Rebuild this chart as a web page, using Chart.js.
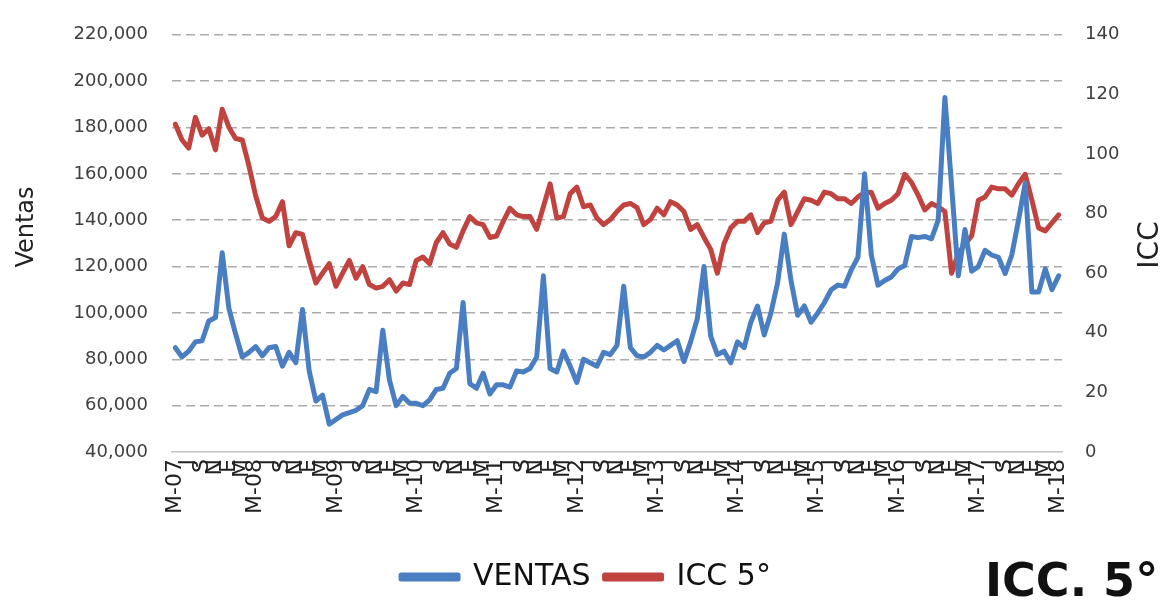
<!DOCTYPE html>
<html>
<head>
<meta charset="utf-8">
<script src="https://cdn.jsdelivr.net/npm/chart.js@4/dist/chart.umd.min.js"></script>
<style>
  html, body { margin: 0; padding: 0; background: #fff; }
  #wrap { width: 1172px; height: 602px; }
</style>
</head>
<body>
<div id="wrap"><canvas id="icc" width="1172" height="602"></canvas></div>
<script>
// meses mostrados en el eje (cada 2 meses, empieza en mayo)
const letras = ['M', 'J', 'S', 'N', 'E', 'M'];
const anios = ['07', '08', '09', '10', '11', '12', '13', '14', '15', '16', '17', '18'];

// ventas mensuales, may-07 a may-18
const ventas = [
  85000, 81000, 83500, 87500, 88000, 96500, 98000, 126000, 102000, 91000, 81000, 83000,
  85500, 81500, 85000, 85500, 77000, 83000, 78500, 101500, 75000, 62000, 64500, 52000,
  54000, 56000, 57000, 58000, 60000, 67000, 66000, 92500, 71000, 60000, 64000, 61000,
  61000, 60000, 62500, 67000, 67500, 74000, 76000, 104500, 69500, 67500, 74000, 65000,
  69000, 69000, 68000, 75000, 74500, 76000, 81000, 116000, 76000, 74500, 83500, 77000,
  70000, 80000, 78500, 77000, 83000, 82000, 86000, 111500, 85000, 81500, 81000, 83000,
  86000, 84000, 86000, 88000, 79000, 87500, 97500, 120000, 90000, 82000, 83500, 78500,
  87500, 85000, 96000, 103000, 90500, 100000, 113000, 134000, 114000, 99000, 103000, 96000,
  100000, 104500, 110000, 112000, 111500, 118500, 124000, 160000, 125000, 112000, 114000, 115500,
  119000, 120500, 133000, 132500, 133000, 132000, 140000, 193000, 155000, 116000, 136000, 118000,
  120000, 127000, 125000, 124000, 117000, 125000, 140000, 156000, 109000, 109000, 119000, 110000, 116000
];

// ICC 5°
const icc = [
  110, 104.7, 102, 112.3, 106.3, 108.5, 101.4, 115, 109, 105.2, 104.7, 96,
  86, 78.5, 77.4, 79, 84, 69.2, 73.6, 73, 64.3, 56.7, 60, 63.2,
  55.6, 60, 64.3, 58.3, 62.2, 56.2, 55, 55.6, 57.8, 54, 56.7, 56.2,
  64.3, 65.4, 63.2, 70.3, 73.6, 69.8, 68.7, 74.2, 79, 76.9, 76.3, 72,
  72.5, 77.4, 81.8, 79.6, 79, 79, 74.7, 82.3, 90, 78.5, 79, 86.7,
  88.9, 82.3, 82.9, 78.5, 76.3, 78, 80.7, 82.9, 83.4, 82, 76.3, 78,
  81.8, 79.6, 84, 82.9, 80.7, 74.7, 76.3, 72, 68, 60, 70, 75.2,
  77.4, 77.4, 79.6, 73.6, 76.9, 77.4, 84.5, 87.2, 76.3, 80.7, 85, 84.5,
  83.4, 87.2, 86.7, 85, 85, 83.4, 85.6, 87, 87.2, 81.8, 83.4, 84.5,
  86.7, 93.2, 90.5, 86.2, 81.2, 83.4, 82.3, 80.7, 60, 66.5, 69.8, 72.5,
  84.5, 85.6, 88.9, 88.3, 88.3, 86.2, 90, 93.2, 84.5, 75.2, 74.2, 76.9, 79.6
];

const fuente = 'DejaVu Sans';
const gris = '#404040';

// etiquetas del eje x: M-aa en mayo, letra cada 2 meses, vacio el resto
const labels = [];
for (let i = 0; i < ventas.length; i++) {
  if (i % 12 === 0) labels.push('M-' + anios[i / 12]);
  else if (i % 2 === 0) labels.push(letras[(i % 12) / 2]);
  else labels.push('');
}

// titulos de ejes y rotulo "ICC. 5°"
const textos = {
  id: 'textos',
  afterDraw(chart) {
    const ctx = chart.ctx;
    ctx.save();
    ctx.fillStyle = '#222';
    ctx.textAlign = 'center';
    ctx.textBaseline = 'middle';
    ctx.font = '24px ' + fuente;
    ctx.translate(27, 227);
    ctx.rotate(-Math.PI / 2);
    ctx.fillText('Ventas', 0, 0);
    ctx.restore();

    ctx.save();
    ctx.fillStyle = '#222';
    ctx.textAlign = 'center';
    ctx.textBaseline = 'middle';
    ctx.font = '28px ' + fuente;
    ctx.translate(1151, 245);
    ctx.rotate(-Math.PI / 2);
    ctx.fillText('ICC', 0, 0);
    ctx.restore();

    ctx.save();
    ctx.fillStyle = '#111';
    ctx.textAlign = 'left';
    ctx.textBaseline = 'alphabetic';
    ctx.font = 'bold 46px ' + fuente;
    ctx.fillText('ICC. 5°', 985, 596);
    ctx.restore();
  }
};

const data = {
  labels: labels,
  datasets: [{
    label: 'VENTAS',
    data: ventas,
    yAxisID: 'y',
    borderColor: '#4A7EC2',
    backgroundColor: '#4A7EC2',
    borderWidth: 5,
    pointRadius: 0,
    tension: 0,
    borderJoinStyle: 'round',
    borderCapStyle: 'round'
  }, {
    label: 'ICC 5°',
    data: icc,
    yAxisID: 'y1',
    borderColor: '#C0433F',
    backgroundColor: '#C0433F',
    borderWidth: 5,
    pointRadius: 0,
    tension: 0,
    borderJoinStyle: 'round',
    borderCapStyle: 'round'
  }]
};

const config = {
  type: 'line',
  data: data,
  options: {
    responsive: false,
    animation: false,
    layout: { padding: { top: 22, left: 0, right: 0, bottom: 0 } },
    scales: {
      x: {
        offset: true,
        grid: { display: false, drawTicks: false },
        border: { display: true, color: '#c4c4c4', width: 1.5 },
        ticks: {
          autoSkip: false,
          minRotation: 90,
          maxRotation: 90,
          padding: 7,
          color: '#222',
          font: { family: fuente, size: 22 }
        },
        afterFit(s) { s.height = 96; }
      },
      y: {
        position: 'left',
        min: 40000,
        max: 220000,
        ticks: {
          stepSize: 20000,
          padding: 24,
          color: gris,
          font: { family: fuente, size: 18 },
          callback: v => v.toLocaleString('en-US')
        },
        grid: {
          color: c => c.tick.value === 40000 ? 'rgba(0,0,0,0)' : '#ababab',
          lineWidth: 1.5,
          drawTicks: false
        },
        border: { display: false, dash: [9, 5] },
        afterFit(s) { s.width = 172; }
      },
      y1: {
        position: 'right',
        min: 0,
        max: 140,
        ticks: {
          stepSize: 20,
          padding: 23,
          color: gris,
          font: { family: fuente, size: 18 }
        },
        grid: { display: false, drawTicks: false },
        border: { display: false },
        afterFit(s) { s.width = 110; }
      }
    },
    plugins: {
      legend: {
        position: 'bottom',
        labels: {
          boxWidth: 57,
          boxHeight: 4,
          padding: 14,
          color: '#111',
          font: { family: fuente, size: 30 }
        }
      },
      tooltip: { enabled: false }
    }
  },
  plugins: [textos]
};

const iccChart = new Chart(document.getElementById('icc'), config);
</script>
</body>
</html>
